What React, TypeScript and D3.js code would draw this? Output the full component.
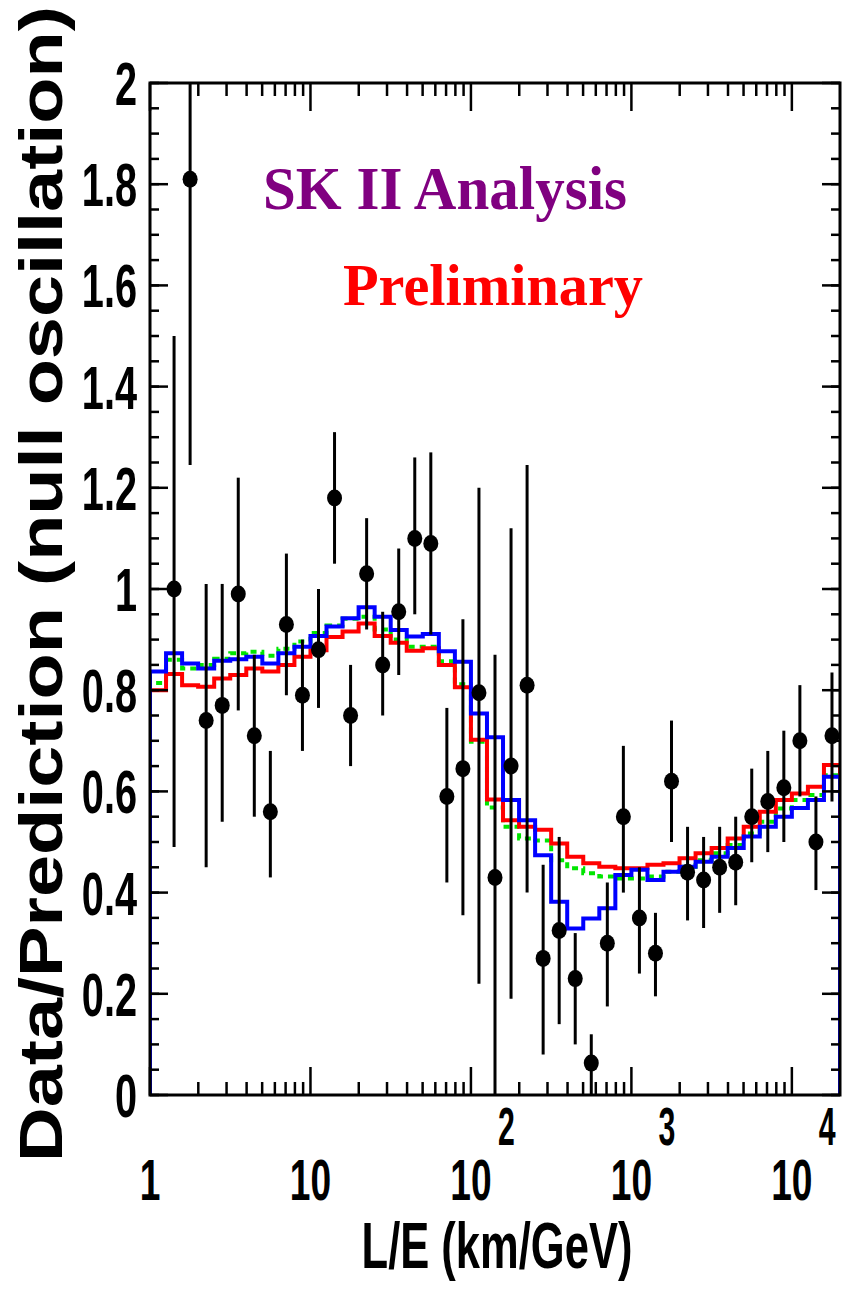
import { useEffect, useRef } from 'react';
import * as d3 from 'd3';

// bin centres, log10(L/E)
const pointLog = [
  0.15, 0.25, 0.35, 0.45, 0.55, 0.65, 0.75, 0.85, 0.95, 1.05, 1.15, 1.25, 1.35, 1.45,
  1.55, 1.65, 1.75, 1.85, 1.95, 2.05, 2.15, 2.25, 2.35, 2.45, 2.55, 2.65, 2.75, 2.85,
  2.95, 3.05, 3.15, 3.25, 3.35, 3.45, 3.55, 3.65, 3.75, 3.85, 3.95, 4.05, 4.15, 4.25,
];
const dataValue = [
  1.0, 1.81, 0.74, 0.77, 0.99, 0.71, 0.56, 0.93, 0.79, 0.88, 1.18, 0.75, 1.03, 0.85,
  0.955, 1.1, 1.09, 0.59, 0.645, 0.795, 0.43, 0.65, 0.81, 0.27, 0.325, 0.23, 0.063, 0.3,
  0.55, 0.35, 0.28, 0.62, 0.44, 0.425, 0.45, 0.46, 0.55, 0.58, 0.607, 0.7, 0.5, 0.71,
];
const errHigh = [
  1.5, 2.3, 1.01, 1.01, 1.22, 0.87, 0.68, 1.07, 0.9, 1.0, 1.31, 0.85, 1.14, 0.955,
  1.08, 1.26, 1.27, 0.765, 0.94, 1.2, 0.87, 1.12, 1.245, 0.455, 0.51, 0.32, 0.12, 0.42,
  0.69, 0.45, 0.36, 0.74, 0.53, 0.51, 0.53, 0.55, 0.645, 0.68, 0.72, 0.81, 0.59, 0.835,
];
const errLow = [
  0.49, 1.245, 0.45, 0.54, 0.76, 0.55, 0.43, 0.79, 0.68, 0.765, 1.05, 0.65, 0.92, 0.75,
  0.83, 0.95, 0.91, 0.42, 0.355, 0.22, 0.0, 0.19, 0.4, 0.08, 0.14, 0.1, 0.0, 0.175,
  0.4, 0.24, 0.195, 0.5, 0.345, 0.33, 0.36, 0.375, 0.46, 0.48, 0.5, 0.59, 0.405, 0.58,
];

// histogram bins: 43 bins of 0.1 decade from L/E = 1
const binEdgesLog = [
  0, 0.1, 0.2, 0.3, 0.4, 0.5, 0.6, 0.7, 0.8, 0.9, 1.0, 1.1, 1.2, 1.3, 1.4, 1.5, 1.6, 1.7,
  1.8, 1.9, 2.0, 2.1, 2.2, 2.3, 2.4, 2.5, 2.6, 2.7, 2.8, 2.9, 3.0, 3.1, 3.2, 3.3, 3.4, 3.5,
  3.6, 3.7, 3.8, 3.9, 4.0, 4.1, 4.2, 4.3,
];
const blueHist = [
  0.837, 0.873, 0.853, 0.843, 0.858, 0.861, 0.866, 0.853, 0.873, 0.886, 0.907, 0.926, 0.942,
  0.964, 0.945, 0.919, 0.906, 0.911, 0.877, 0.856, 0.754, 0.707, 0.583, 0.543, 0.474, 0.382,
  0.329, 0.349, 0.369, 0.435, 0.445, 0.425, 0.441, 0.451, 0.461, 0.471, 0.488, 0.511, 0.53,
  0.55, 0.567, 0.583, 0.629,
];
const redHist = [
  0.8, 0.832, 0.81, 0.807, 0.823, 0.83, 0.843, 0.837, 0.85, 0.866, 0.879, 0.905, 0.916,
  0.932, 0.907, 0.894, 0.878, 0.883, 0.85, 0.806, 0.702, 0.584, 0.543, 0.53, 0.524, 0.497,
  0.471, 0.458, 0.451, 0.448, 0.448, 0.455, 0.458, 0.468, 0.478, 0.488, 0.507, 0.53, 0.56,
  0.583, 0.596, 0.609, 0.652,
];
const greenHist = [
  0.814, 0.86, 0.843, 0.85, 0.862, 0.873, 0.876, 0.868, 0.882, 0.896, 0.913, 0.928, 0.941,
  0.945, 0.92, 0.9, 0.886, 0.886, 0.857, 0.812, 0.698, 0.568, 0.53, 0.507, 0.503, 0.464,
  0.448, 0.438, 0.432, 0.428, 0.428, 0.432, 0.441, 0.451, 0.464, 0.478, 0.494, 0.517, 0.54,
  0.566, 0.583, 0.593, 0.632,
];

const yTickValues = [0, 0.2, 0.4, 0.6, 0.8, 1, 1.2, 1.4, 1.6, 1.8, 2];
const yTickLabels = ['0', '0.2', '0.4', '0.6', '0.8', '1', '1.2', '1.4', '1.6', '1.8', '2'];
const xTickValues = [1, 10, 100, 1000, 10000];
const xTickBase = ['1', '10', '10', '10', '10'];
const xTickExp = ['', '', '2', '3', '4'];

export default function App() {
  const svgRef = useRef<SVGSVGElement>(null);

  useEffect(() => {
    if (!svgRef.current) return;
    const svg = d3.select(svgRef.current);
    svg.selectAll('*').remove();

    const left = 150;
    const right = 840;
    const top = 83;
    const bottom = 1095;

    const x = d3.scaleLog().domain([1, Math.pow(10, 4.3)]).range([left, right]);
    const y = d3.scaleLinear().domain([0, 2]).range([bottom, top]);
    const xl = (l: number) => x(Math.pow(10, l));

    svg.append('rect').attr('width', 842).attr('height', 1300).attr('fill', '#fff');

    const defs = svg.append('defs');
    defs
      .append('clipPath')
      .attr('id', 'plot-clip')
      .append('rect')
      .attr('x', left)
      .attr('y', top)
      .attr('width', right - left)
      .attr('height', bottom - top);

    const plot = svg.append('g').attr('clip-path', 'url(#plot-clip)');

    // histograms
    const histPath = (vals: number[]) => {
      const p = d3.path();
      p.moveTo(xl(binEdgesLog[0]), y(0));
      vals.forEach((v, i) => {
        p.lineTo(xl(binEdgesLog[i]), y(v));
        p.lineTo(xl(binEdgesLog[i + 1]), y(v));
      });
      p.lineTo(xl(binEdgesLog[vals.length]), y(0));
      return p.toString();
    };

    plot
      .append('path')
      .attr('d', histPath(greenHist))
      .attr('fill', 'none')
      .attr('stroke', '#00e600')
      .attr('stroke-width', 4)
      .attr('stroke-dasharray', '6,5');
    plot
      .append('path')
      .attr('d', histPath(redHist))
      .attr('fill', 'none')
      .attr('stroke', '#ff0000')
      .attr('stroke-width', 4);
    plot
      .append('path')
      .attr('d', histPath(blueHist))
      .attr('fill', 'none')
      .attr('stroke', '#0000ff')
      .attr('stroke-width', 4);

    // data points
    const pts = pointLog.map((l, i) => ({
      l,
      v: dataValue[i],
      hi: errHigh[i],
      lo: errLow[i],
    }));

    plot
      .selectAll('.err')
      .data(pts)
      .enter()
      .append('line')
      .attr('x1', (d) => xl(d.l))
      .attr('x2', (d) => xl(d.l))
      .attr('y1', (d) => y(d.hi))
      .attr('y2', (d) => y(d.lo))
      .attr('stroke', '#000')
      .attr('stroke-width', 3);

    plot
      .selectAll('.pt')
      .data(pts)
      .enter()
      .append('ellipse')
      .attr('cx', (d) => xl(d.l))
      .attr('cy', (d) => y(d.v))
      .attr('rx', 7.5)
      .attr('ry', 8.5)
      .attr('fill', '#000');

    // frame and ticks
    const axes = svg.append('g').attr('stroke', '#000');
    axes
      .append('rect')
      .attr('x', left)
      .attr('y', top)
      .attr('width', right - left)
      .attr('height', bottom - top)
      .attr('fill', 'none')
      .attr('stroke-width', 3);

    const xMinor: number[] = [];
    for (let e = 0; e < 5; e++) {
      for (let m = 2; m < 10; m++) {
        const v = m * Math.pow(10, e);
        if (v < Math.pow(10, 4.3)) xMinor.push(v);
      }
    }
    xMinor.forEach((v) => {
      axes.append('line').attr('x1', x(v)).attr('x2', x(v)).attr('y1', bottom).attr('y2', bottom - 13).attr('stroke-width', 2.5);
      axes.append('line').attr('x1', x(v)).attr('x2', x(v)).attr('y1', top).attr('y2', top + 13).attr('stroke-width', 2.5);
    });
    xTickValues.forEach((v) => {
      axes.append('line').attr('x1', x(v)).attr('x2', x(v)).attr('y1', bottom).attr('y2', bottom - 28).attr('stroke-width', 2.5);
      axes.append('line').attr('x1', x(v)).attr('x2', x(v)).attr('y1', top).attr('y2', top + 28).attr('stroke-width', 2.5);
    });

    const yMinor = d3.range(0, 2.001, 0.05);
    yMinor.forEach((v) => {
      axes.append('line').attr('x1', left).attr('x2', left + 9).attr('y1', y(v)).attr('y2', y(v)).attr('stroke-width', 2.5);
      axes.append('line').attr('x1', right).attr('x2', right - 9).attr('y1', y(v)).attr('y2', y(v)).attr('stroke-width', 2.5);
    });
    yTickValues.forEach((v) => {
      axes.append('line').attr('x1', left).attr('x2', left + 18).attr('y1', y(v)).attr('y2', y(v)).attr('stroke-width', 2.5);
      axes.append('line').attr('x1', right).attr('x2', right - 18).attr('y1', y(v)).attr('y2', y(v)).attr('stroke-width', 2.5);
    });

    // tick labels
    const sans = "'Liberation Sans', Arial, Helvetica, sans-serif";
    yTickValues.forEach((v, i) => {
      svg
        .append('text')
        .attr('transform', `translate(137,${y(v) + 22}) scale(0.64,1)`)
        .attr('text-anchor', 'end')
        .attr('font-family', sans)
        .attr('font-weight', 'bold')
        .attr('font-size', 62)
        .attr('fill', '#000')
        .text(yTickLabels[i]);
    });

    xTickValues.forEach((v, i) => {
      svg
        .append('text')
        .attr('transform', `translate(${x(v)},1200) scale(0.64,1)`)
        .attr('text-anchor', 'middle')
        .attr('font-family', sans)
        .attr('font-weight', 'bold')
        .attr('font-size', 58)
        .attr('fill', '#000')
        .text(xTickBase[i]);
      if (xTickExp[i]) {
        svg
          .append('text')
          .attr('transform', `translate(${x(v) + 27},1145) scale(0.56,1)`)
          .attr('text-anchor', 'start')
          .attr('font-family', sans)
          .attr('font-weight', 'bold')
          .attr('font-size', 54)
          .attr('fill', '#000')
          .text(xTickExp[i]);
      }
    });

    // axis titles
    svg
      .append('text')
      .attr('transform', 'translate(497,1268) scale(0.68,1)')
      .attr('text-anchor', 'middle')
      .attr('font-family', sans)
      .attr('font-weight', 'bold')
      .attr('font-size', 64)
      .attr('fill', '#000')
      .text('L/E (km/GeV)');

    svg
      .append('text')
      .attr('transform', 'translate(62,584) rotate(-90)')
      .attr('text-anchor', 'middle')
      .attr('font-family', sans)
      .attr('font-weight', 'bold')
      .attr('font-size', 61)
      .attr('textLength', 1156)
      .attr('lengthAdjust', 'spacingAndGlyphs')
      .attr('fill', '#000')
      .text('Data/Prediction (null oscillation)');

    // annotations
    const serif = "'Liberation Serif', 'Times New Roman', Times, serif";
    svg
      .append('text')
      .attr('x', 263)
      .attr('y', 209)
      .attr('font-family', serif)
      .attr('font-weight', 'bold')
      .attr('font-size', 62)
      .attr('textLength', 364)
      .attr('lengthAdjust', 'spacingAndGlyphs')
      .attr('fill', '#800080')
      .text('SK II Analysis');

    svg
      .append('text')
      .attr('x', 343)
      .attr('y', 305)
      .attr('font-family', serif)
      .attr('font-weight', 'bold')
      .attr('font-size', 60)
      .attr('textLength', 300)
      .attr('lengthAdjust', 'spacingAndGlyphs')
      .attr('fill', '#ff0000')
      .text('Preliminary');
  }, []);

  return (
    <svg
      ref={svgRef}
      width={842}
      height={1300}
      style={{ position: 'absolute', left: 0, top: 0 }}
    ></svg>
  );
}
